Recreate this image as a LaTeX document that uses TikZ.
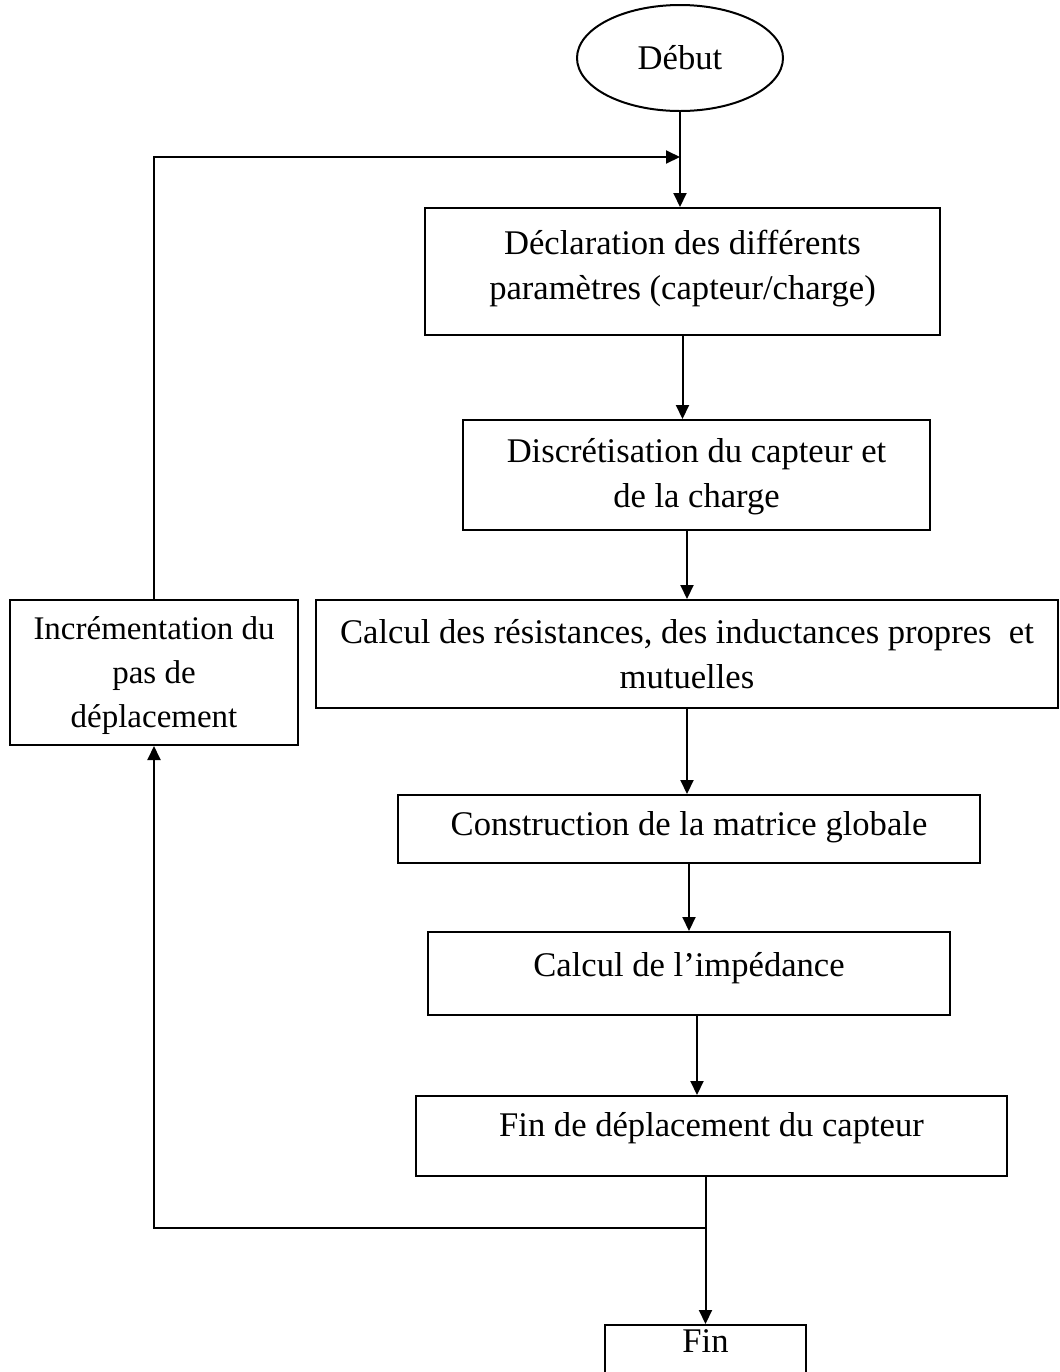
\documentclass[tikz,border=0pt]{standalone}
\usepackage{fontspec}
\setmainfont{Liberation Serif}
\usetikzlibrary{arrows.meta,shapes.geometric}
\begin{document}
\begin{tikzpicture}[x=0.5pt,y=-0.5pt,stage/.style={rectangle,draw,line width=1pt,fill=white,inner sep=0pt},caption/.style={font=\fontsize{17.3}{22.5}\selectfont,align=center,inner sep=0pt},flow/.style={line width=1pt,-{Triangle[length=7pt,width=6.5pt]}}]
\useasboundingbox (0,0) rectangle (1060,1372);
\coordinate (join) at (680,157);
\coordinate (split) at (705,1228);
\node[ellipse,draw,line width=1pt,minimum width=103pt,minimum height=53pt,inner sep=0pt] (debut) at (680,58) {};
\node[caption] (debut-txt) at (debut) {Début};
\node[stage,minimum width=257.5pt,minimum height=63.5pt] (decl) at (682.5,271.5) {};
\node[caption,yshift=1.25pt] (decl-txt) at (decl) {Déclaration des différents\\paramètres (capteur/charge)};
\node[stage,minimum width=233.5pt,minimum height=55pt] (discr) at (696.5,475) {};
\node[caption,yshift=-1pt] (discr-txt) at (discr) {Discrétisation du capteur et\\de la charge};
\node[stage,minimum width=371pt,minimum height=54pt] (calc) at (687,654) {};
\node[caption] (calc-txt) at (calc) {Calcul des résistances, des inductances propres\ \ et\\mutuelles};
\node[stage,minimum width=291pt,minimum height=34pt] (constr) at (689,829) {};
\node[caption,yshift=1pt] (constr-txt) at (constr) {Construction de la matrice globale};
\node[stage,minimum width=261pt,minimum height=41.5pt] (imped) at (689,973.5) {};
\node[caption,yshift=2.5pt] (imped-txt) at (imped) {Calcul de l’impédance};
\node[stage,minimum width=295.5pt,minimum height=40pt] (findep) at (711.5,1136) {};
\node[caption,yshift=4pt] (findep-txt) at (findep) {Fin de déplacement du capteur};
\node[stage,minimum width=100.5pt,minimum height=40pt] (fin) at (705.5,1365) {};
\node[caption,yshift=12pt] (fin-txt) at (fin) {Fin};
\node[stage,minimum width=144pt,minimum height=72.5pt] (incr) at (154,672.5) {};
\node[caption,yshift=-1.5pt,font=\fontsize{16.5}{22}\selectfont] (incr-txt) at (incr) {Incrémentation du\\pas de\\déplacement};
\draw[flow] (debut.south) -- (debut.south |- decl.north);
\draw[flow] (incr.north) |- (join);
\draw[flow] (decl.south) -- (decl.south |- discr.north);
\draw[flow] (calc.north |- discr.south) -- (calc.north);
\draw[flow] (calc.south) -- (calc.south |- constr.north);
\draw[flow] (constr.south) -- (constr.south |- imped.north);
\draw[flow] ([xshift=4pt]imped.south) -- ([xshift=4pt]imped.south |- findep.north);
\draw[flow] (fin.north |- findep.south) -- (fin.north);
\draw[flow] (split) -| (incr.south);
\end{tikzpicture}
\end{document}
